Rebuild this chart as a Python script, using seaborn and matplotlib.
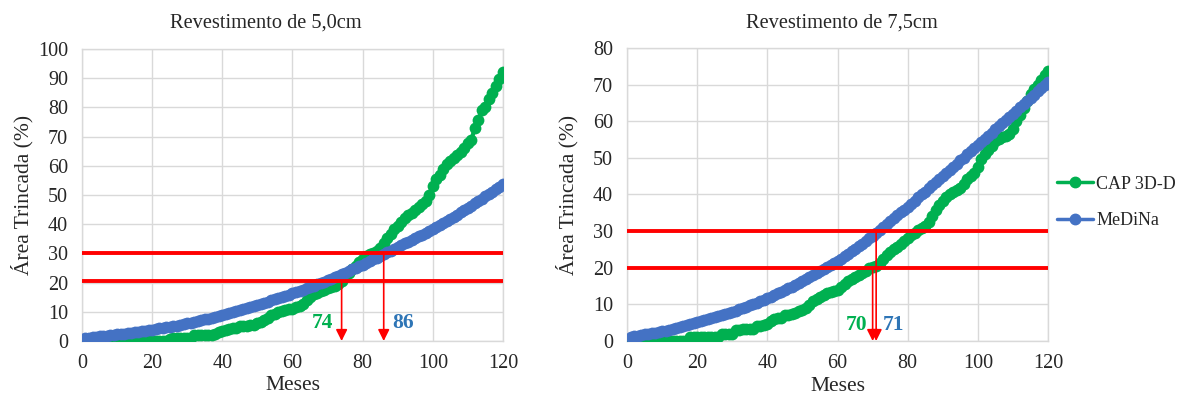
import matplotlib
matplotlib.use("Agg")
import matplotlib.pyplot as plt
import pandas as pd
import seaborn as sns
from matplotlib.lines import Line2D

# months 1..120
meses = list(range(1, 121))

# Revestimento de 5,0cm
cap_50 = [0] * 24 + [
    0.8, 1.0, 1.0, 1.0, 1.0, 1.1, 1.2,
    2.0, 2.0, 2.1, 2.1, 2.2, 2.2, 2.3,
    3.0, 3.3, 3.6, 4.0, 4.3, 4.6,
    5.0, 5.1, 5.2, 5.4, 5.6, 6.0,
    6.5, 7.2, 8.0, 8.8, 9.3, 9.8,
    10.2, 10.5, 10.8, 11.0, 11.5, 12.0,
    12.8, 14.0, 15.2, 16.0, 16.6, 17.2,
    17.6, 18.0, 18.4, 19.0, 19.6, 20.4,
    21.8, 23.2, 24.6, 25.8, 27.0, 28.2,
    29.0, 29.7, 30.2, 30.8, 32.0, 33.5,
    35.2, 36.8, 38.2, 39.5, 40.8, 42.0,
    43.0, 44.0, 45.0, 46.0, 46.8, 47.8,
    50.0, 53.2, 55.5, 57.0, 58.8, 60.5,
    61.8, 62.8, 63.8, 64.8, 66.0, 67.8,
    69.0, 73.0, 75.8, 79.0, 80.2,
    82.8, 85.0, 87.2, 89.6, 92.0]
medina_50 = [
    1.1, 1.2, 1.4, 1.5, 1.6, 1.7, 1.8, 2.0, 2.1, 2.3,
    2.4, 2.5, 2.7, 2.8, 3.0, 3.1, 3.3, 3.5, 3.7, 3.9,
    4.1, 4.3, 4.5, 4.7, 4.9, 5.1, 5.3, 5.5, 5.8, 6.1,
    6.3, 6.6, 6.9, 7.1, 7.4, 7.7, 8.0, 8.3, 8.6, 8.9,
    9.2, 9.5, 9.8, 10.2, 10.5, 10.9, 11.2, 11.6, 11.9, 12.3,
    12.7, 13.1, 13.5, 13.9, 14.3, 14.7, 15.1, 15.5, 15.9, 16.3,
    16.7, 17.2, 17.6, 18.1, 18.5, 19.0, 19.4, 19.9, 20.3, 20.8,
    21.3, 21.8, 22.3, 22.9, 23.4, 23.9, 24.5, 25.0, 25.6, 26.2,
    26.8, 27.4, 28.0, 28.6, 29.2, 29.8, 30.4, 31.0, 31.6, 32.2,
    32.8, 33.4, 34.0, 34.6, 35.2, 35.8, 36.4, 37.0, 37.6, 38.2,
    38.9, 39.6, 40.4, 41.1, 41.8, 42.6, 43.3, 44.1, 44.8, 45.6,
    46.4, 47.2, 48.0, 48.8, 49.6, 50.4, 51.2, 52.1, 52.9, 53.7]

# Revestimento de 7,5cm
cap_75 = [0] * 17 + [1.0] * 9 + [2.0] * 4 + [
    3.0, 3.0, 3.2, 3.2, 3.3, 3.3,
    4.0, 4.2, 4.4, 4.6,
    5.5, 6.0, 6.2, 6.4,
    7.0, 7.2, 7.4, 7.6,
    8.2, 8.5, 9.0, 9.8,
    10.8, 11.5, 12.0, 12.5, 13.0,
    13.3, 13.6, 14.0, 14.8, 15.6,
    16.3, 17.0, 17.6, 18.0,
    18.6, 19.2, 19.8, 20.2,
    20.6, 21.4, 22.4, 23.5, 24.3,
    25.0, 25.8, 26.6, 27.3, 28.2,
    28.9, 29.6, 30.2, 30.8, 31.3,
    32.5, 34.2, 35.8, 37.0, 38.2,
    39.2, 40.0, 40.6, 41.2, 41.8,
    43.0, 44.2, 45.0, 46.0, 47.5,
    49.8, 51.0, 52.2, 53.3, 54.6,
    55.2, 55.6, 56.0, 56.6, 58.0,
    60.0, 61.8, 63.5, 65.5, 67.5,
    68.8, 70.0, 71.2, 72.5, 73.6]
medina_75 = [
    1.1, 1.3, 1.4, 1.6, 1.8, 1.9, 2.1, 2.3, 2.4, 2.6,
    2.8, 3.1, 3.3, 3.6, 3.9, 4.1, 4.4, 4.7, 4.9, 5.2,
    5.5, 5.7, 6.0, 6.3, 6.6, 6.8, 7.1, 7.4, 7.7, 8.0,
    8.3, 8.7, 9.0, 9.4, 9.8, 10.1, 10.5, 10.9, 11.3, 11.7,
    12.1, 12.5, 13.0, 13.4, 13.9, 14.4, 14.8, 15.3, 15.8, 16.3,
    16.8, 17.4, 17.9, 18.5, 19.0, 19.6, 20.1, 20.7, 21.2, 21.8,
    22.5, 23.2, 23.8, 24.5, 25.2, 25.9, 26.6, 27.3, 28.0, 28.7,
    29.5, 30.3, 31.1, 31.9, 32.7, 33.5, 34.3, 35.1, 35.9, 36.7,
    37.5, 38.3, 39.2, 40.0, 40.8, 41.7, 42.5, 43.3, 44.2, 45.0,
    45.9, 46.7, 47.6, 48.4, 49.3, 50.1, 51.0, 51.8, 52.7, 53.5,
    54.4, 55.2, 56.1, 56.9, 57.8, 58.6, 59.5, 60.3, 61.2, 62.0,
    62.9, 63.8, 64.6, 65.5, 66.4, 67.3, 68.2, 69.0, 69.9, 70.8]

series_names = ["CAP 3D-D", "MeDiNa"]
titles = ["Revestimento de 5,0cm", "Revestimento de 7,5cm"]
y_max = [100, 80]
limites = [[20.5, 30], [20, 30]]
# (month, level) where each arrow starts
setas_cap = [(74, 20.5), (70, 20)]
setas_med = [(86, 30), (71, 30)]
rotulos = [[(68.6, 6.2, "74"), (91.5, 6.2, "86")], [(65.5, 4.4, "70"), (76, 4.4, "71")]]

verde = "#00b050"
azul = "#4472c4"
azul_txt = "#2e75b6"
grade = "#d9d9d9"

sns.set_style("white")
plt.rcParams["font.family"] = ["Liberation Serif", "DejaVu Serif"]

fig = plt.figure(figsize=(11.78, 3.94), dpi=100)
ax1 = fig.add_axes([0.0696, 0.1345, 0.3574, 0.741])
ax2 = fig.add_axes([0.5323, 0.1345, 0.3574, 0.7437])

dados = [(cap_50, medina_50), (cap_75, medina_75)]
titulo_x = [0.2258, 0.7148]
for i, ax in enumerate([ax1, ax2]):
    cap, med = dados[i]
    df = pd.DataFrame({
        "Meses": meses * 2,
        "valor": cap + med,
        "serie": [series_names[0]] * len(cap) + [series_names[1]] * len(med),
    })
    sns.lineplot(data=df, x="Meses", y="valor", hue="serie",
                 palette=[verde, azul], marker="o", markersize=8.5,
                 markeredgewidth=0, linewidth=3, legend=False, ax=ax,
                 zorder=3)

    for nivel in limites[i]:
        ax.axhline(nivel, color="red", lw=2.8, zorder=4)

    for (xm, yv) in [setas_cap[i], setas_med[i]]:
        ax.annotate("", xy=(xm, 0), xytext=(xm, yv),
                    arrowprops=dict(arrowstyle="-|>", color="red", lw=1.2,
                                    mutation_scale=17, shrinkA=0, shrinkB=0),
                    zorder=5)

    (xa, ya, ta), (xb, yb, tb) = rotulos[i]
    ax.text(xa, ya, ta, color=verde, fontsize=15.5, fontweight="bold",
            ha="center", va="center")
    ax.text(xb, yb, tb, color=azul_txt, fontsize=15.5, fontweight="bold",
            ha="center", va="center")

    ax.set_xlim(0, 120)
    ax.set_ylim(0, y_max[i])
    ax.set_xticks(range(0, 121, 20))
    ax.set_yticks(range(0, y_max[i] + 1, 10))
    ax.grid(True, color=grade, lw=1)
    ax.set_axisbelow(True)
    for s in ax.spines.values():
        s.set_color(grade)
        s.set_linewidth(1)
    ax.tick_params(axis="x", length=0, labelsize=14.5, pad=9.5)
    ax.tick_params(axis="y", length=0, labelsize=14.5, pad=10)
    fig.text(titulo_x[i], 0.9416, titles[i], fontsize=14.7,
             ha="center", va="center")
    ax.set_xlabel("Meses", fontsize=15.5, va="center")
    ax.xaxis.set_label_coords(0.5, -0.154)
    ax.set_ylabel("Área Trincada (%)", fontsize=15.5, va="center")
    ax.yaxis.set_label_coords(-0.142, 0.5)

handles = [Line2D([], [], color=verde, marker="o", markersize=7.5, lw=2.5),
           Line2D([], [], color=azul, marker="o", markersize=7.5, lw=2.5)]
fig.legend(handles, series_names, loc="center left",
           bbox_to_anchor=(0.897, 0.486), frameon=False, fontsize=13,
           borderpad=0, borderaxespad=0,
           handlelength=2.0, handletextpad=0.2, labelspacing=1.1)

fig.savefig("out.png", dpi=100)
